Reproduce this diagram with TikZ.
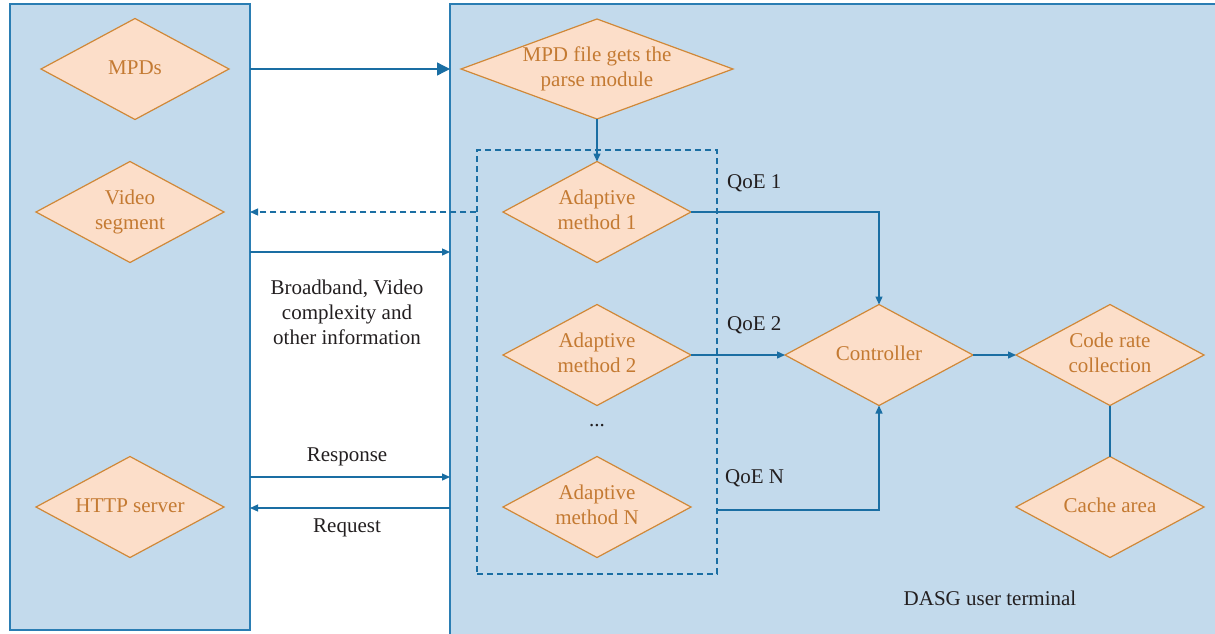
\documentclass[tikz,border=0pt]{standalone}
\usepackage{fontspec}
\setmainfont{Liberation Serif}
\usetikzlibrary{shapes.geometric,arrows.meta}

\definecolor{panelfill}{HTML}{C3DAEC}
\definecolor{panelline}{HTML}{2A7DB3}
\definecolor{flow}{HTML}{1A6EA3}
\definecolor{stepfill}{HTML}{FCDEC9}
\definecolor{stepline}{HTML}{D08838}
\definecolor{steptext}{HTML}{C47A32}
\definecolor{ink}{HTML}{231F20}

% centred text of zero size, so a diamond keeps its given size
\newsavebox\dtxtbox
\newcommand\dtxt[1]{\sbox\dtxtbox{\begin{tabular}{@{}c@{}}#1\end{tabular}}%
  \makebox[0pt]{\raisebox{\dimexpr(\dp\dtxtbox-\ht\dtxtbox)/2\relax}[0pt][0pt]{\usebox\dtxtbox}}}

\tikzset{
  panel/.style={draw=panelline, fill=panelfill, line width=1.6pt, inner sep=0pt, outer sep=0pt},
  stepbox/.style={diamond, draw=stepline, fill=stepfill, line width=1.2pt,
    inner sep=0pt, outer sep=0pt, minimum width=188pt, minimum height=101pt,
    text=steptext},
  widebox/.style={stepbox, minimum width=272pt, minimum height=100pt},
  arr/.style={draw=flow, line width=1.3pt, -{Triangle[length=8pt,width=7pt]}},
  bigarr/.style={draw=flow, line width=1.3pt, -{Triangle[length=13pt,width=13pt]}},
  link/.style={draw=flow, line width=1.3pt},
  dashbox/.style={draw=flow, line width=1.3pt, dash pattern=on 6pt off 4pt},
  lbl/.style={text=ink, align=center, inner sep=0pt},
}

\begin{document}
\begin{tikzpicture}[x=1pt, y=-1pt, font=\fontsize{21}{25}\selectfont]
\useasboundingbox (0,0) rectangle (1215,633);
\clip (0,0) rectangle (1215,633);

% the two panels: server side and user terminal
\node[panel, anchor=north west, minimum width=240pt, minimum height=626pt] (client) at (10,4) {};
\node[panel, anchor=north west, minimum width=800pt, minimum height=660pt] (terminal) at (450,4) {};

% group of adaptive methods
\node[dashbox, inner sep=0pt, minimum width=240pt, minimum height=424pt] (group) at (597,362) {};

% server side
\node[stepbox] (mpds) at (135,69) {\dtxt{MPDs}};
\node[stepbox] (seg) at (130,212) {\dtxt{Video\\segment}};
\node[stepbox] (http) at (130,507) {\dtxt{HTTP server}};

% user terminal
\node[widebox] (parse) at (597,69) {\dtxt{MPD file gets the\\parse module}};
\node[stepbox] (a1) at (597,212) {\dtxt{Adaptive\\method 1}};
\node[stepbox] (a2) at (597,355) {\dtxt{Adaptive\\method 2}};
\node[lbl] (dots) at (597,426) {...};
\node[stepbox] (an) at (597,507) {\dtxt{Adaptive\\method N}};
\node[stepbox] (ctrl) at (879,355) {\dtxt{Controller}};
\node[stepbox] (rate) at (1110,355) {\dtxt{Code rate\\collection}};
\node[stepbox] (cache) at (1110,507) {\dtxt{Cache area}};

% labels
\node[lbl] (info) at (347,312) {Broadband, Video\\complexity and\\other information};
\node[lbl] (resp) at (347,457) {Response};
\node[lbl] (req) at (347,528) {Request};
\node[lbl, anchor=west] (q1) at (727,183) {QoE 1};
\node[lbl, anchor=west] (q2) at (727,325) {QoE 2};
\node[lbl, anchor=west] (qn) at (725,478) {QoE N};
\node[lbl] (term) at (990,598) {DASG user terminal};

% connection points on the panel borders
\coordinate (infoy) at (0,252);
\coordinate (respy) at (0,477);
\coordinate (reqy) at (0,508);
\coordinate (qny) at (0,510);

% connectors
\draw[bigarr] (client.east |- mpds) -- (terminal.west |- mpds);
\draw[arr, dash pattern=on 6pt off 4pt] (group.west |- a1) -- (client.east |- a1);
\draw[arr] (client.east |- infoy) -- (terminal.west |- infoy);
\draw[arr] (client.east |- respy) -- (terminal.west |- respy);
\draw[arr] (terminal.west |- reqy) -- (client.east |- reqy);

\draw[arr] (parse.south) -- (a1.north);
\draw[arr] (a1.east) -| (ctrl.north);
\draw[arr] (a2.east) -- (ctrl.west);
\draw[arr] (group.east |- qny) -| (ctrl.south);
\draw[arr] (ctrl.east) -- (rate.west);
\draw[link] (rate.south) -- (cache.north);
\end{tikzpicture}
\end{document}
